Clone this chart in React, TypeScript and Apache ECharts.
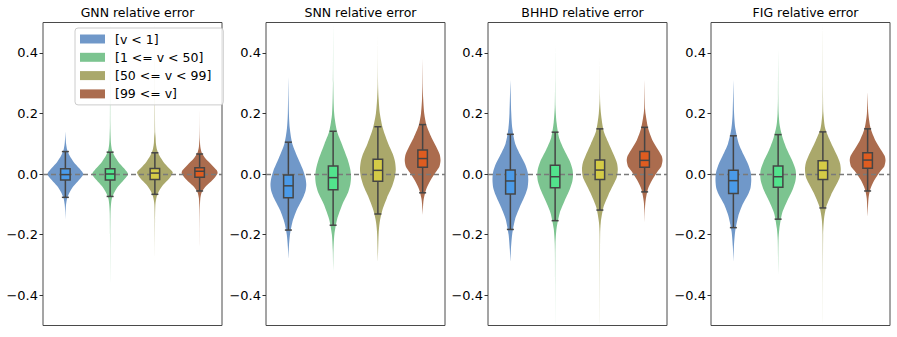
import React, { useEffect, useRef } from "react";
import * as echarts from "echarts";

// ---------- data ----------
const CATEGORIES = ["[v < 1]", "[1 <= v < 50]", "[50 <= v < 99]", "[99 <= v]"];
const PANEL_TITLES = ["GNN relative error", "SNN relative error", "BHHD relative error", "FIG relative error"];
const Y_TICKS = [-0.4, -0.2, 0, 0.2, 0.4];

// box stats per category: [lowWhisker, q1, median, q3, highWhisker]
const GNN_BOX = [
  [-0.077, -0.02, -0.002, 0.017, 0.074],
  [-0.074, -0.02, 0.0, 0.017, 0.072],
  [-0.067, -0.018, 0.003, 0.018, 0.07],
  [-0.056, -0.011, 0.009, 0.021, 0.066],
];
const SNN_BOX = [
  [-0.185, -0.078, -0.039, -0.003, 0.105],
  [-0.169, -0.052, -0.012, 0.026, 0.141],
  [-0.132, -0.024, 0.012, 0.049, 0.156],
  [-0.062, 0.022, 0.051, 0.079, 0.163],
];
const BHHD_BOX = [
  [-0.183, -0.066, -0.023, 0.013, 0.131],
  [-0.154, -0.045, -0.009, 0.029, 0.138],
  [-0.119, -0.018, 0.013, 0.046, 0.149],
  [-0.059, 0.022, 0.045, 0.074, 0.154],
];
const FIG_BOX = [
  [-0.177, -0.064, -0.022, 0.012, 0.126],
  [-0.149, -0.044, -0.009, 0.026, 0.13],
  [-0.112, -0.018, 0.012, 0.044, 0.139],
  [-0.056, 0.019, 0.046, 0.07, 0.149],
];

// violin profiles per category: [value, relative half-width]
const GNN_VIOLINS = [
  [[0.14, 0], [0.12, 0.015], [0.1, 0.04], [0.08, 0.1], [0.06, 0.24], [0.04, 0.46], [0.02, 0.76], [0.0, 1], [-0.02, 0.76], [-0.04, 0.46], [-0.06, 0.24], [-0.08, 0.1], [-0.1, 0.04], [-0.12, 0.015], [-0.15, 0]],
  [[0.5, 0], [0.3, 0.006], [0.16, 0.012], [0.12, 0.03], [0.1, 0.05], [0.08, 0.1], [0.06, 0.24], [0.04, 0.46], [0.02, 0.76], [0.0, 1], [-0.02, 0.76], [-0.04, 0.46], [-0.06, 0.24], [-0.08, 0.1], [-0.1, 0.05], [-0.13, 0.02], [-0.2, 0.008], [-0.36, 0]],
  [[0.5, 0], [0.3, 0.006], [0.14, 0.015], [0.12, 0.04], [0.1, 0.06], [0.08, 0.12], [0.06, 0.26], [0.04, 0.48], [0.02, 0.78], [0.005, 1], [-0.015, 0.8], [-0.035, 0.48], [-0.055, 0.24], [-0.075, 0.1], [-0.1, 0.03], [-0.15, 0.01], [-0.28, 0]],
  [[0.21, 0], [0.12, 0.01], [0.09, 0.04], [0.07, 0.12], [0.05, 0.34], [0.03, 0.68], [0.012, 0.96], [0.002, 1], [-0.02, 0.72], [-0.04, 0.36], [-0.06, 0.12], [-0.08, 0.04], [-0.12, 0.01], [-0.24, 0]],
];
const SNN_VIOLINS = [
  [[0.32, 0], [0.2, 0.03], [0.15, 0.08], [0.1, 0.22], [0.05, 0.55], [0.01, 0.84], [-0.015, 0.96], [-0.035, 1], [-0.055, 0.96], [-0.08, 0.8], [-0.12, 0.46], [-0.16, 0.22], [-0.2, 0.09], [-0.24, 0.03], [-0.28, 0]],
  [[0.5, 0], [0.3, 0.01], [0.2, 0.06], [0.14, 0.22], [0.1, 0.48], [0.05, 0.8], [0.015, 0.96], [-0.01, 1], [-0.035, 0.96], [-0.06, 0.84], [-0.1, 0.52], [-0.15, 0.22], [-0.2, 0.07], [-0.25, 0.02], [-0.32, 0]],
  [[0.46, 0], [0.3, 0.01], [0.25, 0.04], [0.2, 0.11], [0.15, 0.28], [0.1, 0.58], [0.065, 0.84], [0.04, 0.96], [0.015, 1], [-0.01, 0.95], [-0.04, 0.8], [-0.08, 0.5], [-0.12, 0.25], [-0.16, 0.1], [-0.2, 0.04], [-0.29, 0]],
  [[0.38, 0], [0.3, 0.01], [0.25, 0.03], [0.2, 0.09], [0.16, 0.22], [0.12, 0.5], [0.09, 0.76], [0.065, 0.95], [0.045, 1], [0.025, 0.94], [0.005, 0.72], [-0.02, 0.45], [-0.05, 0.2], [-0.08, 0.07], [-0.1, 0.03], [-0.135, 0]],
];
const BHHD_VIOLINS = [
  [[0.31, 0], [0.2, 0.05], [0.15, 0.11], [0.1, 0.27], [0.06, 0.58], [0.03, 0.84], [0.005, 0.97], [-0.02, 1], [-0.045, 0.96], [-0.07, 0.82], [-0.11, 0.52], [-0.15, 0.26], [-0.2, 0.1], [-0.25, 0.03], [-0.29, 0]],
  [[0.43, 0], [0.3, 0.005], [0.22, 0.02], [0.17, 0.08], [0.12, 0.22], [0.08, 0.5], [0.04, 0.84], [0.015, 0.97], [-0.005, 1], [-0.025, 0.96], [-0.05, 0.82], [-0.09, 0.52], [-0.13, 0.25], [-0.18, 0.08], [-0.23, 0.02], [-0.35, 0.005], [-0.5, 0]],
  [[0.39, 0], [0.25, 0.01], [0.2, 0.06], [0.14, 0.22], [0.1, 0.5], [0.06, 0.8], [0.035, 0.96], [0.015, 1], [-0.01, 0.95], [-0.03, 0.8], [-0.07, 0.47], [-0.11, 0.2], [-0.16, 0.05], [-0.2, 0.015], [-0.35, 0.005], [-0.5, 0]],
  [[0.31, 0], [0.22, 0.02], [0.2, 0.05], [0.15, 0.2], [0.11, 0.45], [0.08, 0.75], [0.06, 0.95], [0.045, 1], [0.025, 0.93], [0.01, 0.74], [-0.02, 0.42], [-0.05, 0.18], [-0.09, 0.05], [-0.12, 0.015], [-0.16, 0]],
];
const FIG_VIOLINS = [
  [[0.31, 0], [0.2, 0.04], [0.15, 0.11], [0.1, 0.3], [0.06, 0.6], [0.03, 0.84], [0.005, 0.97], [-0.02, 1], [-0.045, 0.96], [-0.065, 0.84], [-0.1, 0.52], [-0.14, 0.27], [-0.19, 0.1], [-0.24, 0.03], [-0.29, 0]],
  [[0.41, 0], [0.25, 0.01], [0.2, 0.03], [0.16, 0.09], [0.12, 0.25], [0.08, 0.5], [0.04, 0.82], [0.015, 0.97], [-0.005, 1], [-0.025, 0.96], [-0.05, 0.82], [-0.09, 0.5], [-0.13, 0.22], [-0.18, 0.07], [-0.22, 0.02], [-0.34, 0]],
  [[0.5, 0], [0.25, 0.01], [0.2, 0.03], [0.15, 0.13], [0.11, 0.4], [0.06, 0.8], [0.035, 0.96], [0.015, 1], [-0.01, 0.95], [-0.03, 0.8], [-0.07, 0.45], [-0.11, 0.18], [-0.15, 0.06], [-0.2, 0.015], [-0.5, 0]],
  [[0.27, 0], [0.2, 0.04], [0.15, 0.17], [0.11, 0.44], [0.08, 0.74], [0.06, 0.95], [0.045, 1], [0.025, 0.93], [0.01, 0.72], [-0.02, 0.38], [-0.05, 0.15], [-0.08, 0.05], [-0.14, 0]],
];

const PANEL_BOXES = [GNN_BOX, SNN_BOX, BHHD_BOX, FIG_BOX];
const PANEL_VIOLINS = [GNN_VIOLINS, SNN_VIOLINS, BHHD_VIOLINS, FIG_VIOLINS];

// ---------- styles ----------
const VIOLIN_COLORS = ["#7098c9", "#7cc490", "#aaa86b", "#ab6c4e"];
const BOX_COLORS = ["#4a9ae8", "#52e38c", "#d4cb46", "#de5c20"];
const FONT = "DejaVu Sans";
const GRID_LEFTS = [43, 266, 488, 711];
const GRID_W = 179;
const GRID_TOP = 22.5;
const GRID_H = 303;

function fmt(v: number) {
  const s = Math.abs(v).toFixed(1);
  return v < -1e-9 ? "\u2212" + s : s;
}

export default function App() {
  const ref = useRef<HTMLDivElement>(null);
  useEffect(() => {
    document.body.style.margin = "0";
    if (!ref.current) return;
    const chart = echarts.init(ref.current, undefined, { renderer: "svg" });

    const grids: any[] = [];
    const xAxes: any[] = [];
    const yAxes: any[] = [];
    const titles: any[] = [];
    const series: any[] = [];

    PANEL_TITLES.forEach((t, p) => {
      grids.push({
        left: GRID_LEFTS[p], top: GRID_TOP, width: GRID_W, height: GRID_H,
        show: true, borderColor: "#4a4a4a", borderWidth: 1, backgroundColor: "transparent",
      });
      titles.push({
        text: t, left: GRID_LEFTS[p] + GRID_W / 2, top: 1, textAlign: "center",
        textStyle: { fontFamily: FONT, fontSize: 12.5, fontWeight: "normal", color: "#000" },
      });
      xAxes.push({
        type: "category", gridIndex: p, data: CATEGORIES, boundaryGap: true,
        axisLine: { show: false },
        axisLabel: { show: false },
        axisTick: { show: true, alignWithLabel: true, length: 3.5, lineStyle: { color: "#333" } },
        splitLine: { show: false },
      });
      yAxes.push({
        type: "value", gridIndex: p, min: -0.5, max: 0.5,
        axisLine: { show: false },
        splitLine: { show: false },
        axisTick: { show: true, length: 3.5, customValues: Y_TICKS, lineStyle: { color: "#333" } },
        axisLabel: {
          customValues: Y_TICKS, formatter: (v: number) => fmt(v), margin: 5,
          fontFamily: FONT, fontSize: 13, color: "#000",
        },
      });

      const violins = PANEL_VIOLINS[p];
      CATEGORIES.forEach((c, ci) => {
        const prof = violins[ci];
        series.push({
          type: "custom", name: c, xAxisIndex: p, yAxisIndex: p, z: 2,
          itemStyle: { color: VIOLIN_COLORS[ci] },
          encode: { x: 0, y: 1 },
          data: [[ci, 0]],
          silent: true,
          renderItem: (params: any, api: any) => {
            const cat = api.value(0);
            const half = api.size([1, 0])[0] * 0.4;
            const right = prof.map(([v, w]: number[]) => {
              const pt = api.coord([cat, v]);
              return [pt[0] + w * half, pt[1]];
            });
            const left = prof.slice().reverse().map(([v, w]: number[]) => {
              const pt = api.coord([cat, v]);
              return [pt[0] - w * half, pt[1]];
            });
            return {
              type: "polygon",
              shape: { points: right.concat(left), smooth: 0.25 },
              style: { fill: VIOLIN_COLORS[ci], stroke: "none" },
            };
          },
        });
      });

      series.push({
        type: "line", xAxisIndex: p, yAxisIndex: p, z: 3, data: [], silent: true,
        markLine: {
          silent: true, symbol: ["none", "none"], label: { show: false },
          lineStyle: { color: "#7a7a7a", type: [5, 3], width: 1.4 },
          data: [{ yAxis: 0 }],
        },
      });

      const boxes = PANEL_BOXES[p];
      series.push({
        type: "custom", xAxisIndex: p, yAxisIndex: p, z: 5, silent: true,
        encode: { x: 0, y: [1, 2, 3, 4, 5] },
        data: boxes.map((b, ci) => [ci, ...b]),
        renderItem: (params: any, api: any) => {
          const cat = api.value(0);
          const x = api.coord([cat, 0])[0];
          const yOf = (k: number) => api.coord([cat, api.value(k)])[1];
          const yLo = yOf(1), yQ1 = yOf(2), yMed = yOf(3), yQ3 = yOf(4), yHi = yOf(5);
          const bw = 9.5, cw = 7;
          const stroke = "#454545";
          const lw = 1.5;
          return {
            type: "group",
            children: [
              { type: "line", shape: { x1: x, y1: yHi, x2: x, y2: yLo }, style: { stroke, lineWidth: lw } },
              { type: "line", shape: { x1: x - cw / 2, y1: yHi, x2: x + cw / 2, y2: yHi }, style: { stroke, lineWidth: lw } },
              { type: "line", shape: { x1: x - cw / 2, y1: yLo, x2: x + cw / 2, y2: yLo }, style: { stroke, lineWidth: lw } },
              {
                type: "rect", shape: { x: x - bw / 2, y: yQ3, width: bw, height: yQ1 - yQ3 },
                style: { fill: BOX_COLORS[params.dataIndex], stroke, lineWidth: lw },
              },
              { type: "line", shape: { x1: x - bw / 2, y1: yMed, x2: x + bw / 2, y2: yMed }, style: { stroke, lineWidth: lw } },
            ],
          };
        },
      });
    });

    chart.setOption({
      animation: false,
      backgroundColor: "#fff",
      title: titles,
      grid: grids,
      xAxis: xAxes,
      yAxis: yAxes,
      legend: {
        data: CATEGORIES,
        orient: "vertical",
        left: 75, top: 28,
        itemWidth: 25, itemHeight: 9, itemGap: 4.3,
        icon: "rect",
        padding: [4, 12, 4, 5],
        borderColor: "#cccccc", borderWidth: 1, borderRadius: 3,
        backgroundColor: "rgba(255,255,255,0.8)",
        selectedMode: false,
        textStyle: { fontFamily: FONT, fontSize: 12.5, color: "#000", lineHeight: 14, padding: [0, 0, 0, 5] },
      },
      series,
    });
    return () => chart.dispose();
  }, []);
  return <div ref={ref} style={{ width: 897, height: 337 }} />;
}
